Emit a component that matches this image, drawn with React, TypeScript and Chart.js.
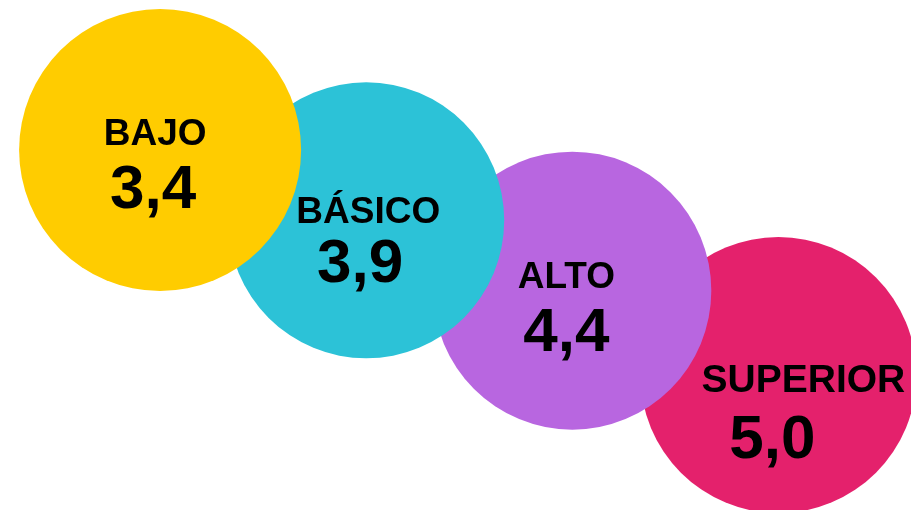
import React, { useEffect, useRef } from "react";
import { Chart, registerables } from "chart.js";

Chart.register(...registerables);

const categories = ["BAJO", "BÁSICO", "ALTO", "SUPERIOR"];
const values = [3.4, 3.9, 4.4, 5.0];
const colors = ["#FFCC00", "#2CC2D7", "#B866E0", "#E4216C"];

// text placement relative to each bubble centre (px)
const labelOffsets = [
  [-5, -5],
  [2, 3],
  [-6, -3],
  [25, 17],
];
const valueOffsets = [
  [-7, 58],
  [-6, 62],
  [-6, 60],
  [-6, 83],
];
const labelSizes = [37, 37, 37, 39];
const radii = [141, 138, 139, 138];

const formatValue = (v: number) => v.toFixed(1).replace(".", ",");

const textPlugin = {
  id: "bubbleText",
  afterDatasetsDraw(chart: any) {
    const ctx = chart.ctx;
    ctx.save();
    ctx.fillStyle = "#000000";
    ctx.textAlign = "center";
    ctx.textBaseline = "alphabetic";
    chart.data.datasets.forEach((ds: any, i: number) => {
      const meta = chart.getDatasetMeta(i);
      const el = meta.data[0];
      if (!el) return;
      ctx.font = `bold ${labelSizes[i]}px 'Liberation Sans', Arial, sans-serif`;
      ctx.fillText(categories[i], el.x + labelOffsets[i][0], el.y + labelOffsets[i][1]);
      ctx.font = "bold 62px 'Liberation Sans', Arial, sans-serif";
      ctx.fillText(formatValue(values[i]), el.x + valueOffsets[i][0], el.y + valueOffsets[i][1]);
    });
    ctx.restore();
  },
};

export default function App() {
  const ref = useRef<HTMLCanvasElement>(null);
  useEffect(() => {
    if (!ref.current) return;
    const chart = new Chart(ref.current, {
      type: "bubble",
      data: {
        datasets: categories.map((c, i) => ({
          label: c,
          data: [{ x: i, y: values[i] }],
          backgroundColor: colors[i],
          borderWidth: 0,
          radius: radii[i],
          hoverRadius: 0,
        })),
      },
      options: {
        animation: false,
        responsive: false,
        events: [],
        layout: { autoPadding: false, padding: 0 },
        plugins: {
          legend: { display: false },
          tooltip: { enabled: false },
          title: { display: false },
        },
        scales: {
          x: { type: "linear", display: false, min: -0.7768, max: 3.6432 },
          y: { type: "linear", display: false, reverse: true, min: 2.334, max: 5.9587 },
        },
      },
      plugins: [textPlugin],
    } as any);
    return () => chart.destroy();
  }, []);
  return (
    <div style={{ position: "fixed", left: 0, top: 0, width: 911, height: 510, background: "#ffffff" }}>
      <canvas ref={ref} width={911} height={510} style={{ display: "block" }} />
    </div>
  );
}
